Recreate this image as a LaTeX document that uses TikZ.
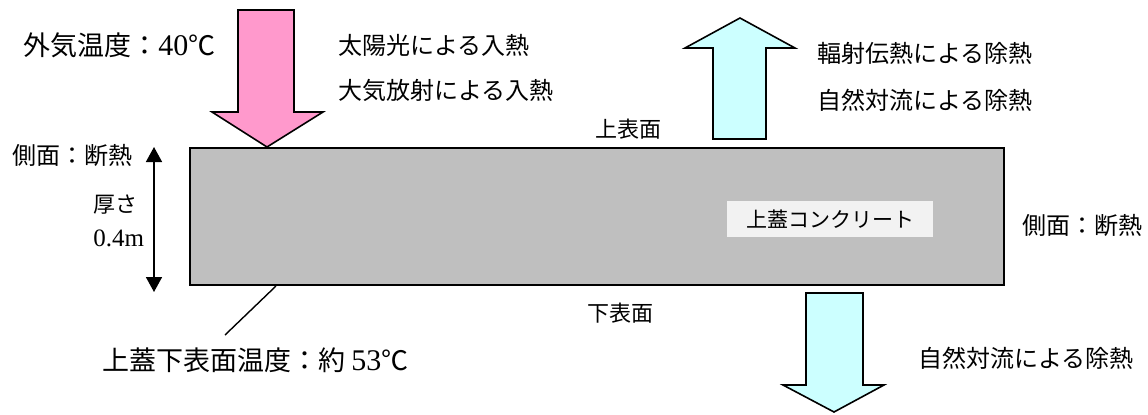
\documentclass[tikz,border=0pt]{standalone}
\usepackage{fontspec}
\setmainfont{Liberation Serif}
\newfontfamily\jp{Noto Sans CJK JP}
\usepackage{xcolor}
\usepackage{tikz}
\usetikzlibrary{arrows.meta}
\definecolor{rosa}{HTML}{FF99CC}
\definecolor{cian}{HTML}{CCFFFF}
\newcommand{\cifra}[1]{{\rmfamily\fontsize{15}{16}\selectfont #1}}
\tikzset{
  entrada/.style={fill=rosa,draw=black,line width=0.8pt},
  salida/.style={fill=cian,draw=black,line width=0.8pt},
  losa/.style={fill=gray!50,draw=black,line width=1.2pt,minimum width=407pt,minimum height=68.5pt,inner sep=0pt,outer sep=0pt},
  rotulo/.style={fill=gray!10,minimum width=103pt,minimum height=18pt,inner sep=0pt,font=\jp\fontsize{10.5}{12}\selectfont},
  txt/.style={anchor=west,inner sep=0pt,font=\jp\fontsize{12}{14}\selectfont},
  medio/.style={txt,font=\jp\fontsize{11}{13}\selectfont},
  grande/.style={txt,font=\jp\fontsize{13.5}{16}\selectfont},
  cota/.style={{Triangle[width=8pt,length=7.5pt]}-{Triangle[width=8pt,length=7.5pt]},line width=0.8pt}
}
\begin{document}
\begin{tikzpicture}[x=0.5pt,y=-0.5pt]
\useasboundingbox (0,0) rectangle (1148,414);
% flechas de calor
\draw[entrada] (238,10)--(294,10)--(294,112)--(323,112)--(267,147)--(212,112)--(238,112)--cycle;
\draw[salida] (713,139)--(766,139)--(766,48)--(795,48)--(740,18)--(685,48)--(713,48)--cycle;
\draw[salida] (806,293)--(863,293)--(863,385)--(884,385)--(834,412)--(783,385)--(806,385)--cycle;
\node[losa] (tapa) at (597,216.5) {};
\node[rotulo] (hormigon) at (830,219) {上蓋コンクリート};
% espesor
\coordinate (cotaA) at (154,147);
\coordinate (cotaB) at (154,292);
\draw[cota] (cotaA)--(cotaB);
\node[medio] (esp) at (93,205) {厚さ};
\node[medio] (espB) at (93,238) {\rmfamily\fontsize{12.5}{14}\selectfont 0.4m};
% textos
\node[grande] (aire) at (23,45) {外気温度：\cifra{40}℃};
\node[txt] (sol) at (338,45) {太陽光による入熱};
\node[txt] (atm) at (338,90) {大気放射による入熱};
\node[txt] (rad) at (817,53) {輻射伝熱による除熱};
\node[txt] (conv) at (817,100) {自然対流による除熱};
\node[txt] (convB) at (918,358) {自然対流による除熱};
\node[txt] (ladoA) at (12,155) {側面：断熱};
\node[txt] (ladoB) at (1022,225) {側面：断熱};
\node[medio] (sup) at (595,129) {上表面};
\node[medio] (inf) at (587,313) {下表面};
\node[grande] (tinf) at (102,360) {上蓋下表面温度：約 \cifra{53}℃};
\coordinate (guiaA) at (276,286);
\coordinate (guiaB) at (225,335);
\draw[line width=0.7pt] (guiaA)--(guiaB);
\end{tikzpicture}
\end{document}
